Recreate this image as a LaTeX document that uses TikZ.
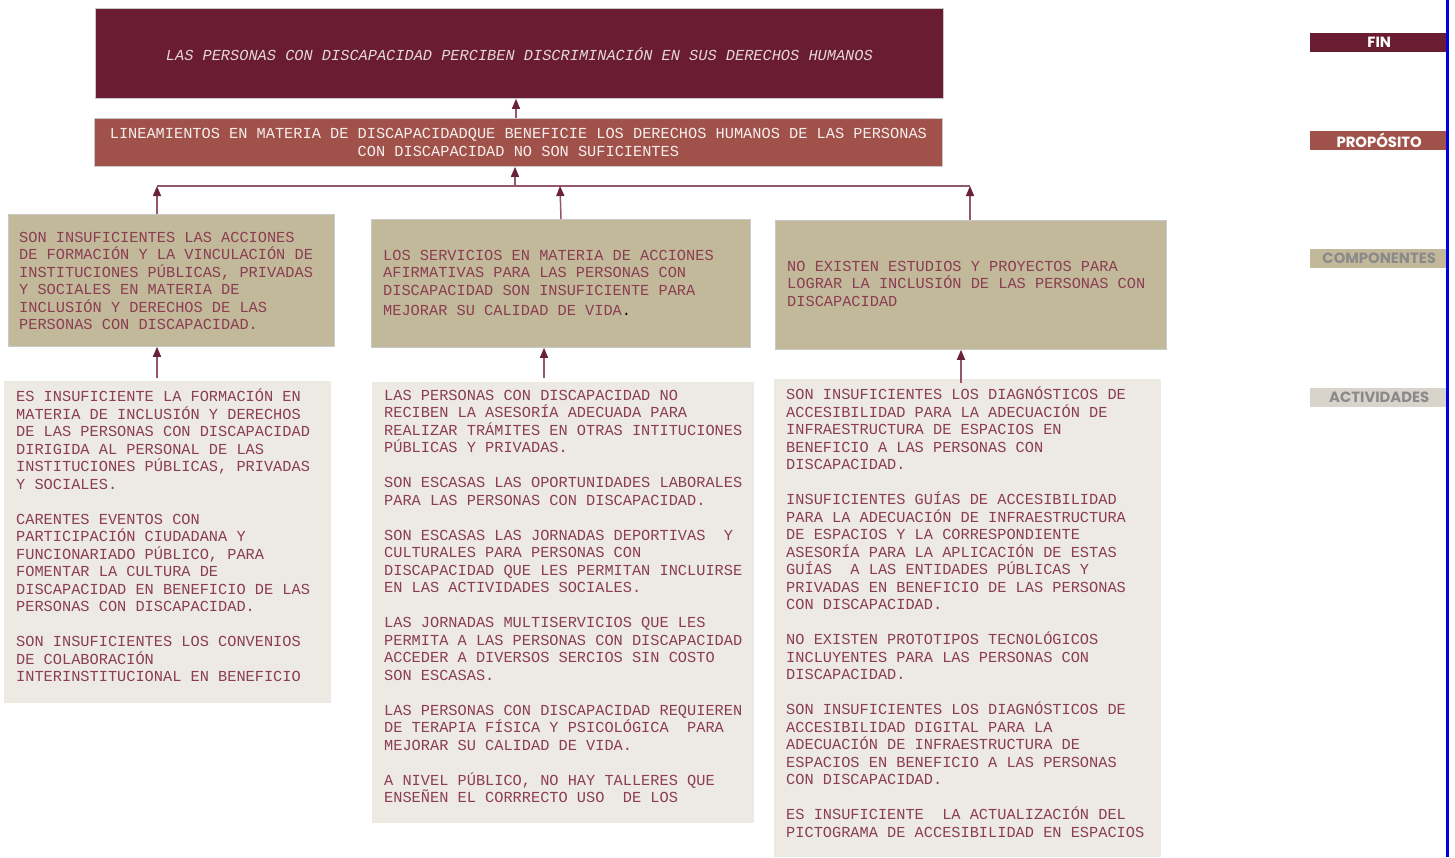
\documentclass[tikz,border=0pt]{standalone}
\usepackage{fontspec}
\setmonofont{Liberation Mono}
\newfontfamily\labfont{Poppins}
\usetikzlibrary{arrows.meta}
\definecolor{finc}{HTML}{691C32}
\definecolor{propc}{HTML}{A0524A}
\definecolor{compc}{HTML}{C2B99A}
\definecolor{actc}{HTML}{EDEAE4}
\definecolor{actlab}{HTML}{D8D4CB}
\definecolor{txtc}{HTML}{8B3D52}
\definecolor{linec}{HTML}{93566A}
\definecolor{headc}{HTML}{6B2139}
\definecolor{bordc}{HTML}{C8C8C8}
\definecolor{labgray}{HTML}{8A8A8A}
\definecolor{vline}{RGB}{0,0,230}
\newcommand{\pgap}{\\[17.5pt]}
\tikzset{
  box/.style={rectangle, anchor=north west, inner sep=0pt, draw=bordc, line width=0.8pt},
  boxtext/.style={anchor=north west, inner sep=0pt, align=left, text=txtc,
     font=\ttfamily\fontsize{15.3}{17.5}\selectfont},
  arr/.style={draw=linec, line width=1.5pt, -{Triangle[width=8pt,length=10pt,fill=headc,color=headc]}},
  lab/.style={rectangle, anchor=north west, inner sep=0pt, minimum width=138pt, minimum height=19pt,
     font=\labfont\bfseries\fontsize{14.8}{15}\selectfont}
}
\begin{document}
\begin{tikzpicture}[x=1pt,y=-1pt]
\useasboundingbox (0,0) rectangle (1455,857);
\fill[white] (0,0) rectangle (1455,857);

% FIN
\node[box, fill=finc, minimum width=848pt, minimum height=90pt] (fin) at (95,8) {};
\node[anchor=center, inner sep=0pt, text=white!82!finc, font=\ttfamily\itshape\fontsize{15.3}{17.5}\selectfont] (fint) at ([yshift=-1pt]fin.center)
  {LAS PERSONAS CON DISCAPACIDAD PERCIBEN DISCRIMINACIÓN EN SUS DERECHOS HUMANOS};

% PROPOSITO
\node[box, fill=propc, minimum width=848pt, minimum height=48pt] (prop) at (94,118) {};
\node[anchor=center, inner sep=0pt, align=center, text=white!90!propc, font=\ttfamily\fontsize{15.3}{17.5}\selectfont] (propt) at (prop.center)
  {LINEAMIENTOS EN MATERIA DE DISCAPACIDADQUE BENEFICIE LOS DERECHOS HUMANOS DE LAS PERSONAS\\CON DISCAPACIDAD NO SON SUFICIENTES};

% COMPONENTES
\node[box, fill=compc, minimum width=326pt, minimum height=132pt] (c1) at (8,214) {};
\node[boxtext] (c1t) at (19,232)
  {SON INSUFICIENTES LAS ACCIONES\\DE FORMACIÓN Y LA VINCULACIÓN DE\\INSTITUCIONES PÚBLICAS, PRIVADAS\\Y SOCIALES EN MATERIA DE\\INCLUSIÓN Y DERECHOS DE LAS\\PERSONAS CON DISCAPACIDAD.};

\node[box, fill=compc, minimum width=379pt, minimum height=128pt] (c2) at (371,219) {};
\node[boxtext] (c2t) at (383,250)
  {LOS SERVICIOS EN MATERIA DE ACCIONES\\AFIRMATIVAS PARA LAS PERSONAS CON\\DISCAPACIDAD SON INSUFICIENTE PARA\\[3pt]MEJORAR SU CALIDAD DE VIDA{\color{black}.}};

\node[box, fill=compc, minimum width=391pt, minimum height=129pt] (c3) at (775,220) {};
\node[boxtext] (c3t) at (787,261)
  {NO EXISTEN ESTUDIOS Y PROYECTOS PARA\\LOGRAR LA INCLUSIÓN DE LAS PERSONAS CON\\DISCAPACIDAD};

% ACTIVIDADES
\node[box, draw=none, fill=actc, minimum width=327pt, minimum height=322pt] (a1) at (4,381) {};
\node[boxtext] (a1t) at (16,389)
  {ES INSUFICIENTE LA FORMACIÓN EN\\MATERIA DE INCLUSIÓN Y DERECHOS\\DE LAS PERSONAS CON DISCAPACIDAD\\DIRIGIDA AL PERSONAL DE LAS\\INSTITUCIONES PÚBLICAS, PRIVADAS\\Y SOCIALES.\pgap
   CARENTES EVENTOS CON\\PARTICIPACIÓN CIUDADANA Y\\FUNCIONARIADO PÚBLICO, PARA\\FOMENTAR LA CULTURA DE\\DISCAPACIDAD EN BENEFICIO DE LAS\\PERSONAS CON DISCAPACIDAD.\pgap
   SON INSUFICIENTES LOS CONVENIOS\\DE COLABORACIÓN\\INTERINSTITUCIONAL EN BENEFICIO};

\node[box, draw=none, fill=actc, minimum width=382pt, minimum height=441pt] (a2) at (372,382) {};
\node[boxtext] (a2t) at (384,390)
  {LAS PERSONAS CON DISCAPACIDAD NO\\RECIBEN LA ASESORÍA ADECUADA PARA\\REALIZAR TRÁMITES EN OTRAS INTITUCIONES\\PÚBLICAS Y PRIVADAS.\pgap
   SON ESCASAS LAS OPORTUNIDADES LABORALES\\PARA LAS PERSONAS CON DISCAPACIDAD.\pgap
   SON ESCASAS LAS JORNADAS DEPORTIVAS~~Y\\CULTURALES PARA PERSONAS CON\\DISCAPACIDAD QUE LES PERMITAN INCLUIRSE\\EN LAS ACTIVIDADES SOCIALES.\pgap
   LAS JORNADAS MULTISERVICIOS QUE LES\\PERMITA A LAS PERSONAS CON DISCAPACIDAD\\ACCEDER A DIVERSOS SERCIOS SIN COSTO\\SON ESCASAS.\pgap
   LAS PERSONAS CON DISCAPACIDAD REQUIEREN\\DE TERAPIA FÍSICA Y PSICOLÓGICA~~PARA\\MEJORAR SU CALIDAD DE VIDA.\pgap
   A NIVEL PÚBLICO, NO HAY TALLERES QUE\\ENSEÑEN EL CORRRECTO USO~~DE LOS};

\node[box, draw=none, fill=actc, minimum width=387pt, minimum height=478pt] (a3) at (774,379) {};
\node[boxtext] (a3t) at (786,387)
  {SON INSUFICIENTES LOS DIAGNÓSTICOS DE\\ACCESIBILIDAD PARA LA ADECUACIÓN DE\\INFRAESTRUCTURA DE ESPACIOS EN\\BENEFICIO A LAS PERSONAS CON\\DISCAPACIDAD.\pgap
   INSUFICIENTES GUÍAS DE ACCESIBILIDAD\\PARA LA ADECUACIÓN DE INFRAESTRUCTURA\\DE ESPACIOS Y LA CORRESPONDIENTE\\ASESORÍA PARA LA APLICACIÓN DE ESTAS\\GUÍAS~~A LAS ENTIDADES PÚBLICAS Y\\PRIVADAS EN BENEFICIO DE LAS PERSONAS\\CON DISCAPACIDAD.\pgap
   NO EXISTEN PROTOTIPOS TECNOLÓGICOS\\INCLUYENTES PARA LAS PERSONAS CON\\DISCAPACIDAD.\pgap
   SON INSUFICIENTES LOS DIAGNÓSTICOS DE\\ACCESIBILIDAD DIGITAL PARA LA\\ADECUACIÓN DE INFRAESTRUCTURA DE\\ESPACIOS EN BENEFICIO A LAS PERSONAS\\CON DISCAPACIDAD.\pgap
   ES INSUFICIENTE~~LA ACTUALIZACIÓN DEL\\PICTOGRAMA DE ACCESIBILIDAD EN ESPACIOS};

% connectors
\coordinate (bar1) at (157,186);
\coordinate (bar2) at (560,186);
\coordinate (bar3) at (970,186);
\coordinate (barm) at (515,186);
\coordinate (pf) at (516,118);
\coordinate (s1) at (157,378);
\coordinate (s2) at (544,378);
\coordinate (s3) at (961,383);
\coordinate (t2) at (561,219);
\draw[draw=linec, line width=1.5pt] (bar1) -- (bar3);
\draw[arr] (pf) -- (pf |- fin.south);
\draw[arr] (barm) -- (barm |- prop.south);
\draw[arr] (bar1 |- c1.north) -- (bar1);
\draw[arr] (t2) -- (bar2);
\draw[arr] (bar3 |- c3.north) -- (bar3);
\draw[arr] (s1) -- (s1 |- c1.south);
\draw[arr] (s2) -- (s2 |- c2.south);
\draw[arr] (s3) -- (s3 |- c3.south);

% level labels
\node[lab, fill=finc, text=white] (lfin) at (1310,33) {FIN};
\node[lab, fill=propc, text=white] (lprop) at (1310,131) {PROPÓSITO};
\node[lab, fill=compc, text=labgray] (lcomp) at (1310,249) {COMPONENTES};
\node[lab, fill=actlab, text=labgray] (lact) at (1310,388) {ACTIVIDADES};

\fill[vline] (1445.5,0) rectangle (1448.5,857);
\end{tikzpicture}
\end{document}
